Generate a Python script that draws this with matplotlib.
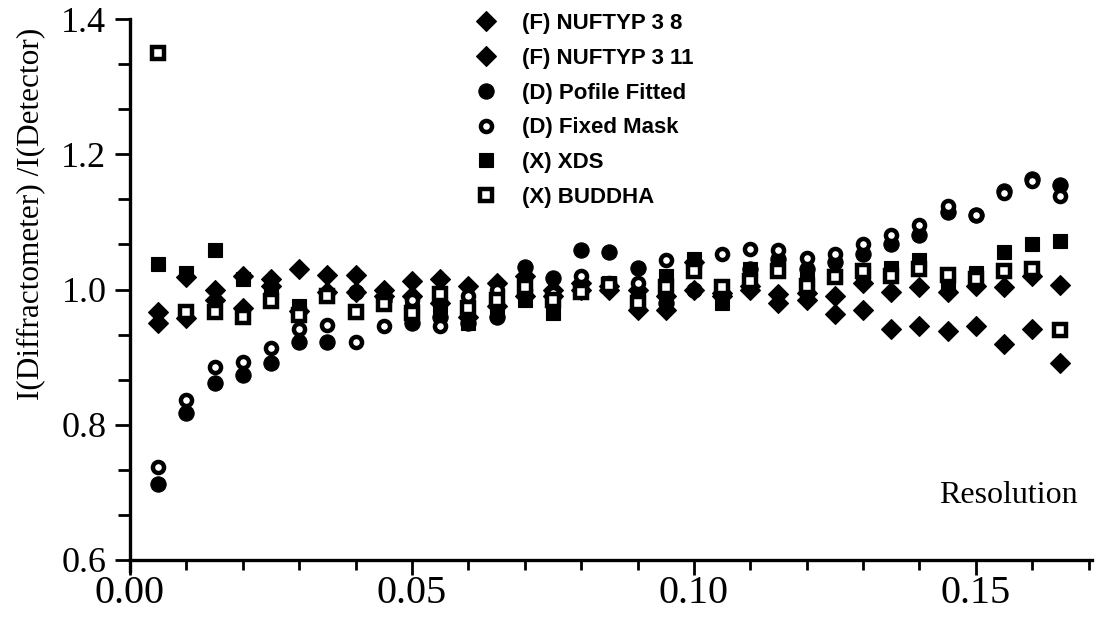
import matplotlib
matplotlib.use("Agg")
import matplotlib.pyplot as plt
from matplotlib.lines import Line2D
from matplotlib.ticker import MultipleLocator, FixedLocator

resolution = [0.005, 0.010, 0.015, 0.020, 0.025, 0.030, 0.035, 0.040, 0.045, 0.050,
              0.055, 0.060, 0.065, 0.070, 0.075, 0.080, 0.085, 0.090, 0.095, 0.100,
              0.105, 0.110, 0.115, 0.120, 0.125, 0.130, 0.135, 0.140, 0.145, 0.150,
              0.155, 0.160, 0.165]

nuftyp_3_8 = [0.966, 1.018, 1.000, 1.020, 1.015, 1.030, 1.021, 1.021, 1.000, 1.012,
              1.015, 1.005, 1.010, 1.020, 1.000, 1.010, 1.005, 1.000, 0.990, 1.040,
              0.995, 1.000, 0.993, 0.995, 0.990, 1.010, 0.996, 1.004, 0.997, 1.005,
              1.003, 1.020, 1.007]

nuftyp_3_11 = [0.951, 0.958, 0.985, 0.972, 1.005, 0.968, 0.997, 0.997, 0.990, 0.990,
               0.980, 0.960, 0.975, 0.990, 0.990, 1.000, 1.000, 0.970, 0.970, 1.000,
               0.990, 1.005, 0.980, 0.985, 0.964, 0.969, 0.942, 0.946, 0.938, 0.946,
               0.919, 0.941, 0.892]

profile_fitted = [0.712, 0.818, 0.861, 0.873, 0.892, 0.923, 0.923, 0.997, 0.985, 0.950,
                  0.960, 0.950, 0.960, 1.034, 1.017, 1.059, 1.056, 1.032, 0.980, 1.000,
                  0.995, 1.030, 1.045, 1.030, 1.040, 1.052, 1.067, 1.081, 1.115, 1.110,
                  1.145, 1.163, 1.155]

fixed_mask = [0.737, 0.837, 0.886, 0.893, 0.914, 0.941, 0.947, 0.923, 0.946, 0.985,
              0.946, 0.990, 1.000, 1.000, 0.995, 1.020, 1.010, 1.010, 1.043, 1.035,
              1.052, 1.060, 1.059, 1.047, 1.052, 1.068, 1.080, 1.096, 1.123, 1.110,
              1.143, 1.160, 1.138]

xds = [1.038, 1.025, 1.059, 1.015, 0.995, 0.975, 0.990, 0.967, 0.985, 0.970,
       0.975, 0.950, 0.970, 0.985, 0.965, 0.998, 1.010, 0.985, 1.020, 1.045,
       0.980, 1.030, 1.030, 1.015, 1.020, 1.025, 1.032, 1.044, 1.010, 1.025,
       1.055, 1.067, 1.071]

buddha = [1.350, 0.967, 0.967, 0.960, 0.983, 0.963, 0.990, 0.966, 0.978, 0.965,
          0.994, 0.973, 0.984, 1.003, 0.984, 0.997, 1.007, 0.980, 1.003, 1.028,
          1.004, 1.012, 1.027, 1.005, 1.019, 1.027, 1.020, 1.031, 1.022, 1.016,
          1.027, 1.030, 0.940]

labels = ["(F) NUFTYP 3 8", "(F) NUFTYP 3 11", "(D) Pofile Fitted",
          "(D) Fixed Mask", "(X) XDS", "(X) BUDDHA"]
x_ticks = [0.00, 0.05, 0.10, 0.15]
x_ticklabels = ["0.00", "0.05", "0.10", "0.15"]
y_ticks = [0.6, 0.8, 1.0, 1.2, 1.4]
y_ticklabels = ["0.6", "0.8", "1.0", "1.2", "1.4"]

serif = ["Liberation Serif", "DejaVu Serif"]
sans = ["Liberation Sans", "DejaVu Sans"]

fig = plt.figure(figsize=(10.95, 6.19), dpi=100)
ax = fig.add_axes([130 / 1095, 1 - 560 / 619, 962 / 1095, 541 / 619])

styles = {
    "diamond": dict(marker="D", ms=10.5, mfc="black", mec="black", mew=0.8, ls="none"),
    "fcircle": dict(marker="o", ms=11, mfc="black", mec="black", mew=0.8, ls="none"),
    "ocircle": dict(marker="o", ms=8, mfc="white", mec="black", mew=3.2, ls="none"),
    "fsquare": dict(marker="s", ms=10.5, mfc="black", mec="black", mew=0.8, ls="none"),
    "osquare": dict(marker="s", ms=8, mfc="white", mec="black", mew=3.2, ls="none"),
}

ax.plot(resolution, xds, **styles["fsquare"], zorder=3)
ax.plot(resolution, profile_fitted, **styles["fcircle"], zorder=3)
ax.plot(resolution, nuftyp_3_8, **styles["diamond"], zorder=4)
ax.plot(resolution, nuftyp_3_11, **styles["diamond"], zorder=4)
ax.plot(resolution, fixed_mask, **styles["ocircle"], zorder=5)
ax.plot(resolution, buddha, **styles["osquare"], zorder=6)

ax.set_xlim(0, 0.1706)
ax.set_ylim(0.6, 1.4)

for s in ["top", "right"]:
    ax.spines[s].set_visible(False)
for s in ["left", "bottom"]:
    ax.spines[s].set_linewidth(2.4)

ax.xaxis.set_major_locator(FixedLocator(x_ticks))
ax.xaxis.set_minor_locator(MultipleLocator(0.01))
ax.yaxis.set_major_locator(FixedLocator(y_ticks))
ax.yaxis.set_minor_locator(MultipleLocator(0.2 / 3))
ax.set_xticklabels(x_ticklabels)
ax.set_yticklabels(y_ticklabels)
ax.tick_params(axis="both", which="major", direction="out", width=2, length=11)
ax.tick_params(axis="y", which="major", labelsize=26, pad=6)
ax.tick_params(axis="x", which="major", labelsize=29, pad=0)
ax.tick_params(axis="x", which="minor", direction="out", width=2, length=7)
ax.tick_params(axis="y", which="minor", direction="out", width=2, length=9)
for lab in ax.get_xticklabels() + ax.get_yticklabels():
    lab.set_family(serif)

# y-axis spine tail below the x axis
ax.add_line(Line2D([0, 0], [0, -0.02], transform=ax.transAxes, color="black",
                   lw=2.4, clip_on=False))

ax.set_ylabel("I(Diffractometer) /I(Detector)", family=serif, fontsize=22.5)
ax.yaxis.set_label_coords(-0.088, 0.64)
ax.text(0.985, 0.12, "Resolution", transform=ax.transAxes, ha="right", va="center",
        family=serif, fontsize=23)

handles = [
    Line2D([], [], **styles["diamond"]),
    Line2D([], [], **styles["diamond"]),
    Line2D([], [], **styles["fcircle"]),
    Line2D([], [], **styles["ocircle"]),
    Line2D([], [], **styles["fsquare"]),
    Line2D([], [], **styles["osquare"]),
]
leg = ax.legend(handles, labels, loc="upper left", bbox_to_anchor=(464 / 1095, 1 - 2 / 619),
                bbox_transform=fig.transFigure, frameon=False, handlelength=1.0,
                handletextpad=1.1, labelspacing=0.62, borderpad=0,
                prop={"family": sans, "size": 16, "weight": "bold"})

fig.savefig("out.png", dpi=100)
